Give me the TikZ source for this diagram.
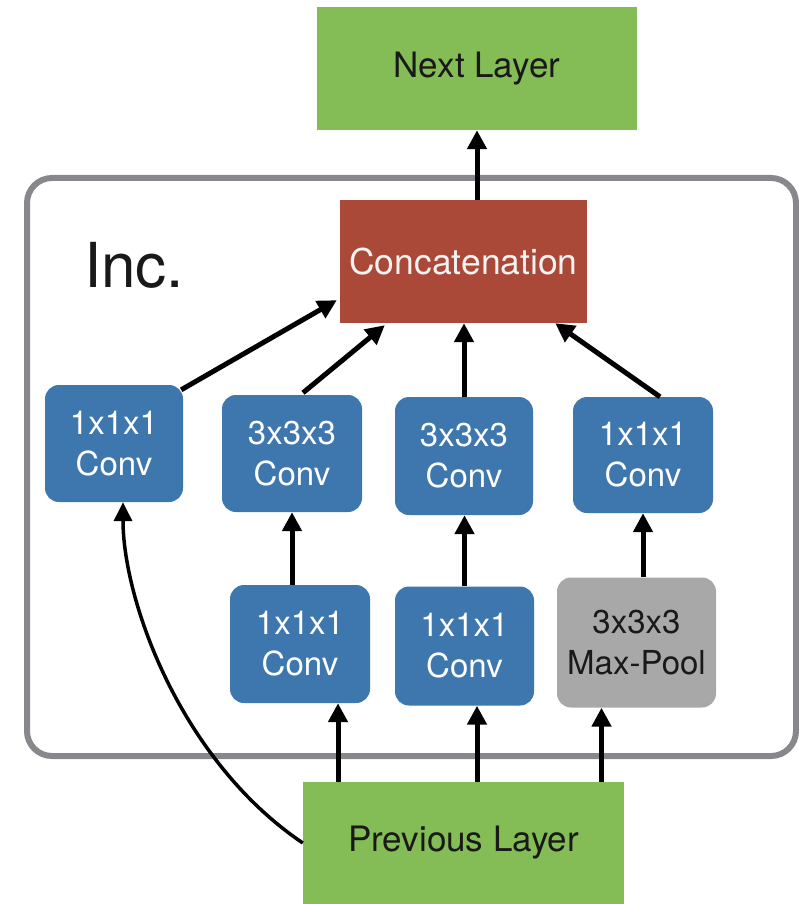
\documentclass[tikz,border=0pt]{standalone}
\usepackage{fontspec}
\setmainfont{TeX Gyre Heros}
\usetikzlibrary{arrows.meta,calc}
\definecolor{lgreen}{RGB}{132,189,85}
\definecolor{cred}{RGB}{170,73,55}
\definecolor{cblue}{RGB}{62,118,174}
\definecolor{cgray}{RGB}{168,168,168}
\definecolor{frameg}{RGB}{136,136,140}
\definecolor{dtext}{RGB}{25,25,25}
\tikzset{
  layerbox/.style={fill=lgreen, draw=none, minimum width=320pt, minimum height=123pt, inner sep=0pt, text=dtext, font=\fontsize{35}{40}\selectfont},
  concatbox/.style={fill=cred, draw=none, minimum width=247pt, minimum height=123pt, inner sep=0pt, text=white!95!black, font=\fontsize{35.5}{40}\selectfont},
  convbox/.style={fill=cblue, draw=none, rounded corners=14pt, minimum width=139pt, minimum height=117pt, inner sep=0pt, text=white, align=center, font=\fontsize{33}{41}\selectfont},
  poolbox/.style={fill=cgray, draw=none, rounded corners=14pt, minimum width=159pt, minimum height=130pt, inner sep=0pt, text=dtext, align=center, font=\fontsize{33}{41}\selectfont},
  arr/.style={line width=5pt, draw=black, -{Triangle[length=19pt,width=19pt]}},
}
\begin{document}
\begin{tikzpicture}[x=1pt,y=-1pt]
\useasboundingbox (0,0) rectangle (799,904);
\fill[white] (0,0) rectangle (799,904);
% frame
\draw[frameg, line width=6pt, rounded corners=25pt] (27,178) rectangle (796,756);
\node[anchor=west, text=dtext, font=\fontsize{62}{70}\selectfont, inner sep=0pt] (inc) at (84,265) {Inc.};
% nodes
\node[layerbox] (next) at (477,68.5) {Next Layer};
\node[concatbox] (concat) at (463.5,261.5) {Concatenation};
\node[convbox, minimum width=138pt] (A) at (114,443.5) {1x1x1\\Conv};
\node[convbox, minimum width=140pt] (B) at (292,453.5) {3x3x3\\Conv};
\node[convbox, minimum width=138pt, minimum height=118pt] (C) at (464,456) {3x3x3\\Conv};
\node[convbox, minimum width=140pt, minimum height=116pt] (D) at (643,455) {1x1x1\\Conv};
\node[convbox, minimum width=140pt, minimum height=118pt] (E) at (300,644) {1x1x1\\Conv};
\node[convbox, minimum width=139pt, minimum height=119pt] (F) at (464.5,646) {1x1x1\\Conv};
\node[poolbox] (G) at (636.5,642.5) {3x3x3\\Max-Pool};
\node[layerbox, minimum width=321pt, minimum height=122pt] (prev) at (463.5,843) {Previous Layer};
% helper coordinates
\coordinate (e1) at ($(E.south)+(38,0)$);
\coordinate (f1) at ($(F.south)+(12.5,0)$);
\coordinate (g1) at ($(G.south)+(-35,0)$);
% arrows
\draw[arr] (concat.north -| next.south) -- (next.south);
\draw[arr] ($(A.north east)+(-2,5)$) -- ($(concat.south west)+(-3,-23)$);
\draw[arr] ($(B.north)+(11,-2)$) -- ($(concat.south west)+(45,2)$);
\draw[arr] (C.north) -- (C.north |- concat.south);
\draw[arr] ($(D.north)+(17,0)$) -- ($(concat.south east)+(-32,0)$);
\draw[arr] (B.south |- E.north) -- (B.south);
\draw[arr] (F.north) -- (F.north |- C.south);
\draw[arr] (D.south |- G.north) -- (D.south);
\draw[arr] (e1 |- prev.north) -- (e1);
\draw[arr] (f1 |- prev.north) -- (f1);
\draw[arr] (g1 |- prev.north) -- (g1);
\draw[line width=3.5pt, -{Triangle[length=19pt,width=18pt]}] (prev.west) .. controls (180,760) and (123,600) .. ($(A.south)+(9,0)$);
\end{tikzpicture}
\end{document}
